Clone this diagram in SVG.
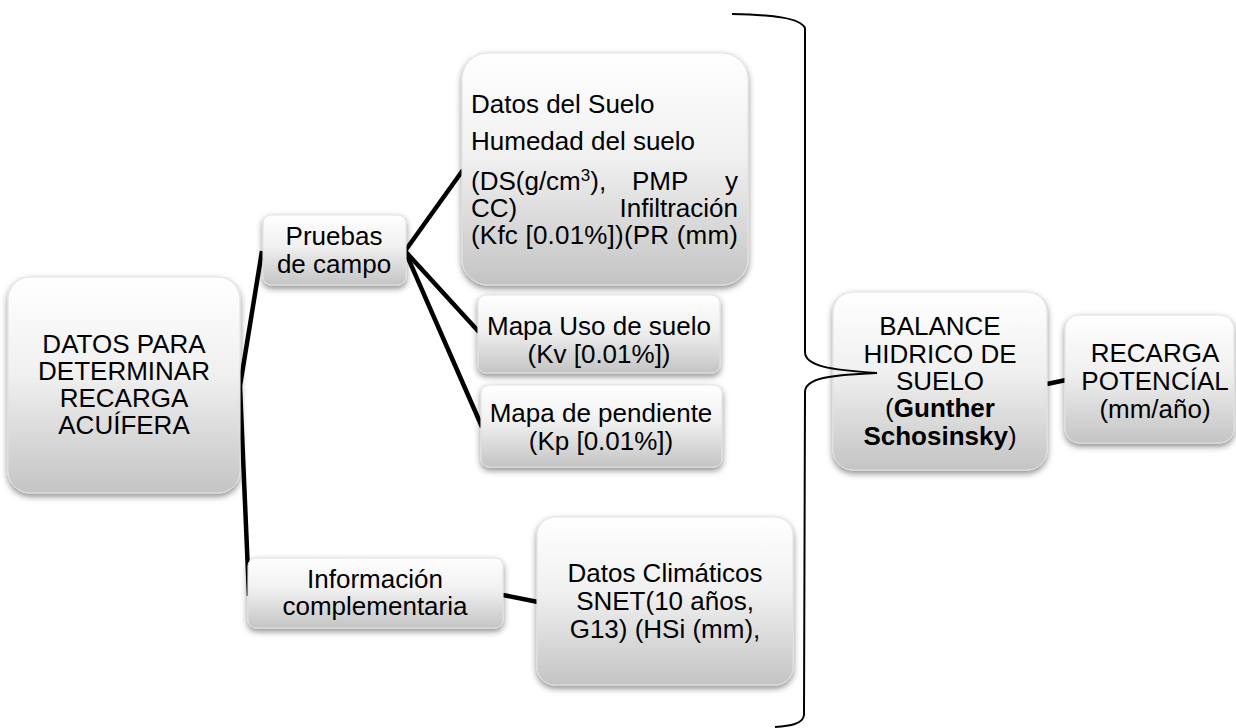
<svg xmlns="http://www.w3.org/2000/svg" width="1236" height="728" viewBox="0 0 1236 728">
<defs>
<linearGradient id="g" x1="0" y1="0" x2="0" y2="1">
<stop offset="0" stop-color="#ffffff"/>
<stop offset="0.45" stop-color="#f0f0f0"/>
<stop offset="1" stop-color="#c4c4c4"/>
</linearGradient>
<filter id="sh" x="-10%" y="-10%" width="120%" height="130%">
<feDropShadow dx="0" dy="3" stdDeviation="3" flood-color="#000" flood-opacity="0.45"/>
</filter>
<style>
.box{fill:url(#g);stroke:#e0e0e0;stroke-width:1;filter:url(#sh)}
.t{font-family:"Liberation Sans",Arial,sans-serif;font-size:26px;fill:#000}
.c{text-anchor:middle}
.ln{stroke:#000;stroke-width:4.5;fill:none;stroke-linecap:butt}
.br{stroke:#000;stroke-width:2;fill:none}
</style>
</defs>
<rect width="1236" height="728" fill="#fff"/>

<g id="connectors">
<line class="ln" x1="240" y1="386" x2="262" y2="251"/>
<line class="ln" x1="240" y1="386" x2="249" y2="596"/>
<line class="ln" x1="405" y1="251" x2="463" y2="170"/>
<line class="ln" x1="405" y1="251" x2="479" y2="332"/>
<line class="ln" x1="405" y1="251" x2="482" y2="427"/>
<line class="ln" x1="503" y1="595" x2="538" y2="602"/>
<line class="ln" x1="1047" y1="384" x2="1066" y2="380" stroke-width="5"/>
</g>

<g id="n-datos">
<rect class="box" x="8" y="277" width="232" height="216" rx="22"/>
<text class="t c" x="124"><tspan x="124" y="353">DATOS PARA</tspan><tspan x="124" y="380">DETERMINAR</tspan><tspan x="124" y="407">RECARGA</tspan><tspan x="124" y="434">ACUÍFERA</tspan></text>
</g>

<g id="n-pruebas">
<rect class="box" x="263" y="215" width="143" height="70" rx="8"/>
<text class="t c"><tspan x="334" y="245">Pruebas</tspan><tspan x="334" y="273">de campo</tspan></text>
</g>

<g id="n-info">
<rect class="box" x="248" y="558" width="255" height="70" rx="8"/>
<text class="t c"><tspan x="375" y="588">Información</tspan><tspan x="375" y="615">complementaria</tspan></text>
</g>

<g id="n-suelo">
<rect class="box" x="462" y="53" width="286" height="232" rx="26"/>
<text class="t" x="471" y="113">Datos del Suelo</text>
<text class="t" x="471" y="150">Humedad del suelo</text>
<text class="t" x="471" y="190">(DS(g/cm<tspan font-size="17" dy="-9">3</tspan><tspan dy="9">),</tspan></text>
<text class="t" x="632" y="190">PMP</text>
<text class="t" x="738" y="190" text-anchor="end">y</text>
<text class="t" x="471" y="217">CC)</text>
<text class="t" x="738" y="217" text-anchor="end">Infiltración</text>
<text class="t" x="471" y="244" textLength="267" lengthAdjust="spacing">(Kfc [0.01%])(PR (mm)</text>
</g>

<g id="n-uso">
<rect class="box" x="478" y="295" width="242" height="78" rx="8"/>
<text class="t c"><tspan x="599" y="335">Mapa Uso de suelo</tspan><tspan x="599" y="363">(Kv [0.01%])</tspan></text>
</g>

<g id="n-pendiente">
<rect class="box" x="481" y="385" width="241" height="82" rx="8"/>
<text class="t c"><tspan x="601" y="422">Mapa de pendiente</tspan><tspan x="601" y="450">(Kp [0.01%])</tspan></text>
</g>

<g id="n-clima">
<rect class="box" x="537" y="517" width="256" height="168" rx="18"/>
<text class="t c"><tspan x="665" y="582">Datos Climáticos</tspan><tspan x="665" y="610">SNET(10 años,</tspan><tspan x="665" y="638">G13) (HSi (mm),</tspan></text>
</g>

<g id="n-balance">
<rect class="box" x="833" y="292" width="214" height="178" rx="20"/>
<text class="t c"><tspan x="940" y="335">BALANCE</tspan><tspan x="940" y="363">HIDRICO DE</tspan><tspan x="940" y="390">SUELO</tspan><tspan x="940" y="417">(<tspan font-weight="bold">Gunther</tspan></tspan><tspan x="940" y="445"><tspan font-weight="bold">Schosinsky</tspan>)</tspan></text>
</g>

<g id="n-recarga">
<rect class="box" x="1065" y="315" width="169" height="128" rx="14"/>
<text class="t c"><tspan x="1155" y="362">RECARGA</tspan><tspan x="1155" y="390">POTENCÍAL</tspan><tspan x="1155" y="418">(mm/año)</tspan></text>
</g>

<g id="brace">
<path class="br" d="M732 14 C775 15 800 18 805 28 L805 352 C805 366 830 370 877 373 C830 375 805 378 805 392 L804 715 C803 724 790 726 775 727"/>
</g>
</svg>
